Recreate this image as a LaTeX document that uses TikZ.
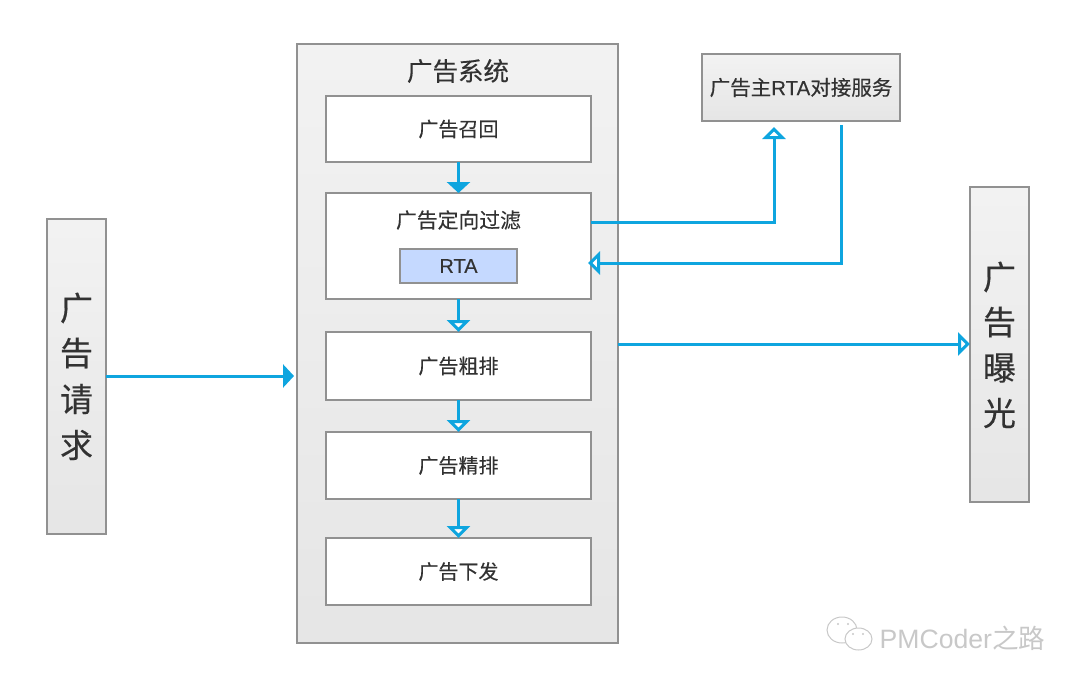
\documentclass[tikz,border=0pt]{standalone}
\usepackage{fontspec}
\usepackage{tikz}
\usetikzlibrary{arrows.meta}
\setmainfont[FakeBold=0.3]{Liberation Sans}
\newfontfamily\cjk[FakeBold=0.3]{Noto Sans CJK SC}
\newfontfamily\markfont{Liberation Sans}
\newfontfamily\markcjk{Noto Sans CJK SC}
\definecolor{linkblue}{RGB}{14, 165, 223}
\definecolor{boxgray}{RGB}{145, 145, 145}
\definecolor{textgray}{RGB}{50, 50, 50}
\definecolor{rtablue}{RGB}{197, 217, 255}
\definecolor{markgray}{RGB}{200, 200, 200}
\tikzset{
  panel/.style={draw=boxgray, line width=1.3pt, top color=white!95!black, bottom color=white!90!black,
    inner sep=0pt, outer sep=0pt, text=textgray, align=center},
  stage/.style={draw=boxgray, line width=1.3pt, fill=white, inner sep=0pt, outer sep=0pt,
    minimum width=265pt, text=textgray, font=\cjk\fontsize{20}{24}\selectfont},
  bigchar/.style={text=textgray, font=\cjk\fontsize{33}{36}\selectfont},
  link/.style={draw=linkblue, line width=3pt},
  solidtip/.style={link, -{Triangle[width=23pt, length=11pt, fill=linkblue]}},
  opentip/.style={link, -{Triangle[open, width=23pt, length=12pt, fill=white]}}
}
\begin{document}
\begin{tikzpicture}[x=1pt, y=-1pt]
   \useasboundingbox (0,0) rectangle (1080,685);

   \draw[]
    (457.5,343.5) node[panel, minimum width=321pt, minimum height=599pt](system) {}
    (458,71) node[text=textgray, font=\cjk\fontsize{25.5}{30}\selectfont](systemtitle) {广告系统}
    (458.5,129) node[stage, minimum height=66pt](recall) {广告召回}
    (458.5,246) node[stage, minimum height=106pt](filter) {}
    (458.5,220) node[text=textgray, font=\cjk\fontsize{20.8}{25}\selectfont](filtertitle) {广告定向过滤}
    (458.5,266) node[draw=boxgray, line width=1.3pt, fill=rtablue, minimum width=117pt, minimum height=34pt,
      inner sep=0pt, text=textgray, font=\fontsize{20}{24}\selectfont](rta) {RTA}
    (458.5,366) node[stage, minimum height=68pt](coarse) {广告粗排}
    (458.5,465.5) node[stage, minimum height=67pt](fine) {广告精排}
    (458.5,571.5) node[stage, minimum height=67pt](issue) {广告下发};

   \draw[]
    (76.5,376.5) node[panel, minimum width=59pt, minimum height=315pt](request) {}
    (76.5,308) node[bigchar](req1) {广}
    (76.5,353) node[bigchar](req2) {告}
    (76.5,399) node[bigchar](req3) {请}
    (76.5,445) node[bigchar](req4) {求}
    (999.5,344.5) node[panel, minimum width=59pt, minimum height=315pt](expose) {}
    (999.5,277) node[bigchar](exp1) {广}
    (999.5,322) node[bigchar](exp2) {告}
    (999.5,368) node[bigchar](exp3) {曝}
    (999.5,413) node[bigchar](exp4) {光}
    (801,87.5) node[panel, minimum width=198pt, minimum height=67pt,
      font=\fontsize{20.5}{24}\selectfont](service) {{\cjk 广告主}RTA{\cjk 对接服务}};

   % free ends of the bent links
   \coordinate (outup) at (591,222);
   \coordinate (upbend) at (774,222);
   \coordinate (uptip) at (774,127);
   \coordinate (downstart) at (841,125);
   \coordinate (downbend) at (841,263);
   \coordinate (intip) at (588,263);
   \coordinate (reqtip) at (294,376);
   \coordinate (reqstart) at (106,376);
   \coordinate (expstart) at (618,344);
   \coordinate (exptip) at (970,344);

   \draw[solidtip] (recall.south) -- (filter.north);
   \draw[opentip] (filter.south) -- (coarse.north);
   \draw[opentip] (coarse.south) -- (fine.north);
   \draw[opentip] (fine.south) -- (issue.north);
   \draw[solidtip] (reqstart) -- (reqtip);
   \draw[opentip] (expstart) -- (exptip);
   \draw[opentip] (outup) -- (upbend) -- (uptip);
   \draw[opentip] (downstart) -- (downbend) -- (intip);

   %watermark
   \draw[markgray, line width=1pt, fill=white] (842,630) ellipse (15 and 13);
   \draw[markgray, line width=1pt, fill=white] (858.5,639) ellipse (13.5 and 11);
   \fill[markgray] (838,624) circle (1.2) (848,624) circle (1.2) (853,634) circle (1.2) (863,634) circle (1.2);
   \draw (962.5,638) node[text=markgray, font=\markfont\fontsize{26.6}{30}\selectfont](mark) {PMCoder{\markcjk 之路}};
\end{tikzpicture}
\end{document}
